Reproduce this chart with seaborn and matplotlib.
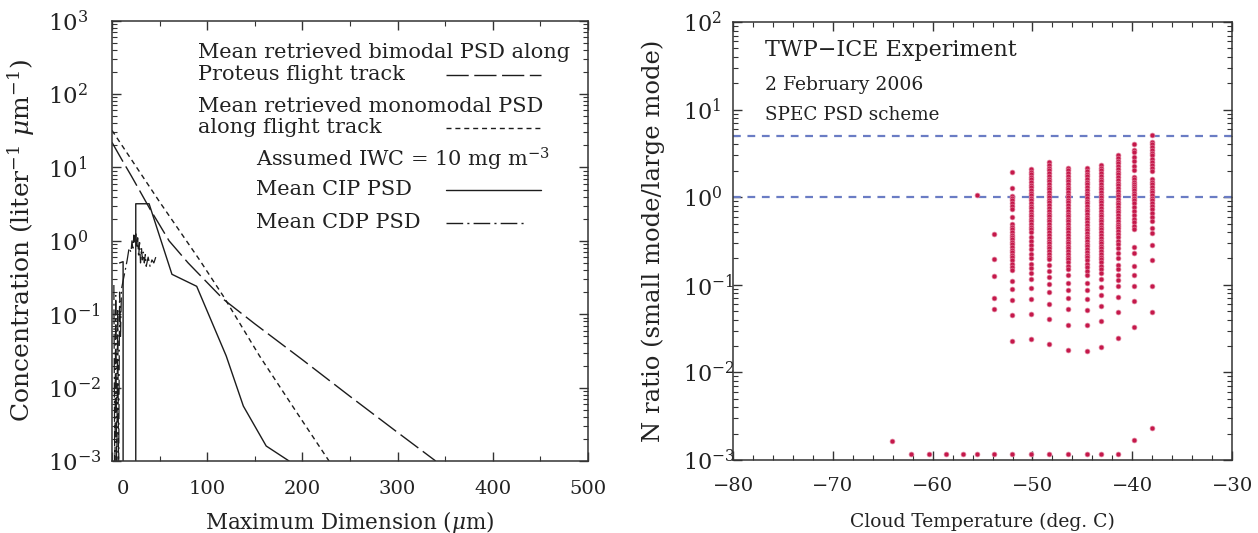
import numpy as np
import pandas as pd
import matplotlib
matplotlib.use("Agg")
import matplotlib.pyplot as plt
import seaborn as sns
from matplotlib.ticker import (LogLocator, MultipleLocator, FixedLocator, FixedFormatter,
                               LogFormatterMathtext, NullFormatter)

# ---------------- left panel data (Maximum dimension in um, concentration) -------------
bimodal_x = [0, 10, 20, 30, 40, 50, 60, 80, 100, 117, 150, 200, 250, 300, 340]
bimodal_y = [22, 13, 7.8, 4.6, 2.7, 1.65, 1.0, 0.5, 0.27, 0.16, 0.074, 0.024, 0.0076, 0.00245, 0.001]

mono_x = [0, 50, 92, 117, 155, 194, 228]
mono_y = [32, 3.4, 0.55, 0.176, 0.027, 0.0046, 0.001]

cip_x = [8, 11.7, 11.7, 25, 25, 39, 63, 89, 120, 138, 162, 186]
cip_y = [0.5, 0.52, 0.0001, 0.0001, 3.2, 3.2, 0.35, 0.24, 0.027, 0.0056, 0.0016, 0.001]

cdp_x = [2, 3, 4, 5, 6, 7, 8, 9, 10, 12, 14, 16, 18, 20, 21, 22, 23, 24, 25, 26, 27, 28,
         29, 30, 31, 32, 33, 34, 35, 36, 38, 40, 42, 44, 46]
cdp_y = [0.25, 0.0005, 0.18, 0.0005, 0.12, 0.0006, 0.2, 0.05, 0.22, 0.3, 0.4, 0.55, 0.8,
         0.7, 1.0, 0.75, 1.2, 0.9, 1.25, 0.8, 1.1, 0.6, 0.95, 0.5, 0.8, 0.55, 0.7, 0.5,
         0.65, 0.45, 0.6, 0.45, 0.55, 0.5, 0.6]
left_xticks = [0, 100, 200, 300, 400, 500]
left_xticklabels = ["", "100", "200", "300", "400", "500"]
zero_label = "0"
zero_label_x = 11.5   # the original draws its "0" label slightly right of the tick
left_yticks = [1e-3, 1e-2, 1e-1, 1e0, 1e1, 1e2, 1e3]

# ---------------- right panel data (cloud temperature, N ratio) -------------------------
col_temps = [-64.1, -62.2, -60.4, -58.7, -57.0, -55.6, -53.9, -52.1, -50.1, -48.3,
             -46.4, -44.5, -43.1, -41.4, -39.8, -38.0]
r_m64 = [0.00166]
r_m62 = [0.00118]
r_m60 = [0.00118]
r_m59 = [0.00118]
r_m57 = [0.00118]
r_m56 = [1.05, 0.00118]
r_m54 = [0.38, 0.197, 0.125, 0.071, 0.053, 0.00118]
r_m52 = [1.96, 1.27, 1.04, 0.98, 0.92, 0.86, 0.79, 0.74, 0.60, 0.49, 0.46, 0.43, 0.40,
         0.375, 0.35, 0.33, 0.31, 0.29, 0.27, 0.25, 0.235, 0.22, 0.205, 0.19, 0.175, 0.16,
         0.148, 0.111, 0.090, 0.067, 0.045, 0.023, 0.00118]
r_m50 = [2.1, 1.96, 1.83, 1.71, 1.6, 1.49, 1.39, 1.3, 1.21, 1.13, 1.05, 0.98, 0.92, 0.86,
         0.8, 0.75, 0.7, 0.65, 0.61, 0.57, 0.53, 0.49, 0.46, 0.43, 0.4, 0.355, 0.32, 0.285,
         0.255, 0.225, 0.2, 0.175, 0.155, 0.135, 0.116, 0.091, 0.069, 0.046, 0.024, 0.00118]
r_m48 = [2.5, 2.33, 2.17, 2.02, 1.88, 1.75, 1.63, 1.52, 1.42, 1.32, 1.23, 1.15, 1.07, 1.0,
         0.93, 0.87, 0.81, 0.75, 0.7, 0.65, 0.61, 0.57, 0.53, 0.49, 0.46, 0.43, 0.4, 0.37,
         0.345, 0.32, 0.3, 0.28, 0.26, 0.24, 0.225, 0.21, 0.195, 0.17, 0.145, 0.124, 0.102,
         0.082, 0.061, 0.041, 0.021, 0.00118]
r_m46 = [2.17, 2.02, 1.88, 1.75, 1.63, 1.52, 1.42, 1.32, 1.23, 1.15, 1.07, 1.0, 0.93, 0.87,
         0.81, 0.75, 0.7, 0.65, 0.61, 0.57, 0.53, 0.49, 0.46, 0.43, 0.4, 0.37, 0.345, 0.32,
         0.3, 0.28, 0.26, 0.24, 0.225, 0.21, 0.195, 0.18, 0.165, 0.15, 0.128, 0.106, 0.087,
         0.07, 0.0525, 0.035, 0.018, 0.00118]
r_m44 = [2.14, 2.0, 1.86, 1.73, 1.61, 1.5, 1.4, 1.3, 1.21, 1.13, 1.05, 0.98, 0.91, 0.85,
         0.79, 0.74, 0.69, 0.64, 0.6, 0.56, 0.52, 0.48, 0.45, 0.42, 0.39, 0.36, 0.34, 0.315,
         0.295, 0.275, 0.255, 0.235, 0.22, 0.205, 0.19, 0.175, 0.16, 0.145, 0.13, 0.104,
         0.087, 0.069, 0.052, 0.035, 0.0177, 0.00118]
r_m43 = [2.33, 2.17, 2.02, 1.88, 1.75, 1.63, 1.52, 1.42, 1.32, 1.23, 1.15, 1.07, 1.0, 0.93,
         0.87, 0.81, 0.75, 0.7, 0.65, 0.61, 0.57, 0.53, 0.49, 0.46, 0.43, 0.4, 0.37, 0.345,
         0.32, 0.3, 0.28, 0.26, 0.24, 0.225, 0.21, 0.195, 0.18, 0.165, 0.15, 0.138, 0.116,
         0.095, 0.077, 0.057, 0.039, 0.0197, 0.00118]
r_m41 = [3.03, 2.82, 2.62, 2.44, 2.27, 2.11, 1.96, 1.82, 1.7, 1.58, 1.47, 1.37, 1.27, 1.18,
         1.1, 1.02, 0.95, 0.89, 0.83, 0.77, 0.72, 0.67, 0.62, 0.58, 0.54, 0.5, 0.47, 0.44,
         0.41, 0.38, 0.35, 0.32, 0.29, 0.26, 0.23, 0.2, 0.17, 0.15, 0.129, 0.113, 0.098,
         0.073, 0.049, 0.025, 0.00118]
r_m40 = [4.0, 3.5, 3.25, 2.9, 2.6, 2.3, 2.05, 1.7, 1.6, 1.5, 1.4, 1.33, 1.27, 1.2, 1.12,
         1.05, 0.98, 0.92, 0.86, 0.78, 0.7, 0.63, 0.57, 0.52, 0.47, 0.43, 0.268, 0.229,
         0.165, 0.129, 0.098, 0.066, 0.033, 0.00168]
r_m38 = [5.13, 4.3, 4.0, 3.75, 3.5, 3.2, 3.0, 2.7, 2.5, 2.35, 2.15, 2.0, 1.6, 1.5, 1.4, 1.3,
         1.22, 1.14, 1.06, 0.98, 0.92, 0.86, 0.8, 0.73, 0.66, 0.6, 0.53, 0.44, 0.386, 0.285,
         0.19, 0.097, 0.049, 0.00234]
col_ratios = [r_m64, r_m62, r_m60, r_m59, r_m57, r_m56, r_m54, r_m52, r_m50, r_m48,
              r_m46, r_m44, r_m43, r_m41, r_m40, r_m38]
ref_levels = [1, 5]
right_xticks = [-80, -70, -60, -50, -40, -30]
right_yticks = [1e-3, 1e-2, 1e-1, 1e0, 1e1, 1e2]

legend_labels = ["Mean retrieved bimodal PSD along", "Proteus flight track",
                 "Mean retrieved monomodal PSD", "along flight track",
                 "Assumed IWC = 10 mg m$^{-3}$", "Mean CIP PSD", "Mean CDP PSD"]
info_texts = ["TWP\u2212ICE Experiment", "2 February 2006", "SPEC PSD scheme"]

# ---------------- style -----------------------------------------------------------------
sns.set_theme(style="ticks")
plt.rcParams.update({
    "font.family": ["DejaVu Serif"],
    "mathtext.fontset": "dejavuserif",
    "axes.edgecolor": "#333333",
    "axes.linewidth": 1.1,
    "xtick.direction": "in", "ytick.direction": "in",
    "xtick.top": True, "ytick.right": True,
    "xtick.color": "#333333", "ytick.color": "#333333",
    "xtick.labelcolor": "#222222", "ytick.labelcolor": "#222222",
    "xtick.major.size": 6.5, "ytick.major.size": 6.5,
    "xtick.minor.size": 3.8, "ytick.minor.size": 3.8,
    "xtick.major.width": 1.0, "ytick.major.width": 1.0,
    "xtick.minor.width": 0.8, "ytick.minor.width": 0.8,
    "text.color": "#222222", "axes.labelcolor": "#222222",
})

fig = plt.figure(figsize=(12.58, 5.33), dpi=100)
axL = fig.add_axes([0.089, 0.1351, 0.3784, 0.8261])
axR = fig.add_axes([0.5827, 0.137, 0.3967, 0.8217])

LC = "#1c1c1c"
LONG = (0, (16, 4))
SHORT = (0, (3.6, 2.8))
DASHDOT = (0, (12, 3, 1.5, 3))

sns.lineplot(x=bimodal_x, y=bimodal_y, ax=axL, sort=False, estimator=None,
             color=LC, lw=1.0, linestyle=LONG)
sns.lineplot(x=mono_x, y=mono_y, ax=axL, sort=False, estimator=None,
             color=LC, lw=1.0, linestyle=SHORT)
sns.lineplot(x=cip_x, y=cip_y, ax=axL, sort=False, estimator=None,
             color=LC, lw=1.0, linestyle="-")
sns.lineplot(x=cdp_x, y=cdp_y, ax=axL, sort=False, estimator=None,
             color=LC, lw=0.9, linestyle=DASHDOT)

axL.set_yscale("log")
axL.set_xlim(0, 500)
axL.set_ylim(1e-3, 1e3)
axL.xaxis.set_major_locator(FixedLocator(left_xticks))
axL.xaxis.set_major_formatter(FixedFormatter(left_xticklabels))
axL.xaxis.set_minor_locator(MultipleLocator(50))
axL.yaxis.set_major_locator(FixedLocator(left_yticks))
axL.yaxis.set_minor_locator(LogLocator(base=10, subs=np.arange(2, 10), numticks=20))
axL.yaxis.set_major_formatter(LogFormatterMathtext())
axL.yaxis.set_minor_formatter(NullFormatter())
axL.tick_params(axis="x", which="both", labelsize=14, pad=14)
axL.tick_params(axis="y", which="both", labelsize=16.5, pad=46)
axL.text(zero_label_x, -0.044, zero_label, transform=axL.get_xaxis_transform(),
         fontsize=14, ha="center", va="top", color="#222222")
axL.set_xlabel("Maximum Dimension ($\\mu$m)", fontsize=15.5)
axL.xaxis.set_label_coords(0.5, -0.108)
axL.set_ylabel("Concentration (liter$^{-1}$ $\\mu$m$^{-1}$)", fontsize=18)
axL.yaxis.set_label_coords(-0.157, 0.5)

# legend (text with sample line keys)
tx = [0.181, 0.181, 0.181, 0.181, 0.3025, 0.3025, 0.3025]
ty = [0.927, 0.877, 0.805, 0.757, 0.684, 0.616, 0.541]
for x, y, s in zip(tx, ty, legend_labels):
    axL.text(x, y, s, transform=axL.transAxes, fontsize=15, va="center", ha="left")
key_y = [0.877, 0.757, 0.616, 0.541]
key_end = [0.901, 0.901, 0.901, 0.872]
key_style = [LONG, SHORT, "-", DASHDOT]
for y, xe, ls in zip(key_y, key_end, key_style):
    axL.plot([0.702, xe], [y, y], transform=axL.transAxes, color=LC, lw=1.0, linestyle=ls)

# right panel
rows_t, rows_r = [], []
for t, rs in zip(col_temps, col_ratios):
    rows_t += [t] * len(rs)
    rows_r += rs
df = pd.DataFrame({"temp": rows_t, "ratio": rows_r})

for lvl in ref_levels:
    axR.axhline(lvl, color="#6a7cc4", lw=1.6, linestyle=(0, (3.5, 3.0)), zorder=1)
sns.scatterplot(data=df, x="temp", y="ratio", ax=axR, color="#c4184a", s=12,
                edgecolor="#e07a98", linewidth=0.5, zorder=3)
axR.set_yscale("log")
axR.set_xlim(-80, -30)
axR.set_ylim(1e-3, 1e2)
axR.xaxis.set_major_locator(FixedLocator(right_xticks))
axR.xaxis.set_minor_locator(MultipleLocator(2))
axR.yaxis.set_major_locator(FixedLocator(right_yticks))
axR.yaxis.set_minor_locator(LogLocator(base=10, subs=np.arange(2, 10), numticks=20))
axR.yaxis.set_major_formatter(LogFormatterMathtext())
axR.yaxis.set_minor_formatter(NullFormatter())
axR.tick_params(axis="x", which="both", labelsize=14, pad=12)
axR.tick_params(axis="y", which="both", labelsize=16, pad=36)
axR.set_xlabel("Cloud Temperature (deg. C)", fontsize=13.5)
axR.xaxis.set_label_coords(0.5, -0.12)
axR.set_ylabel("N ratio (small mode/large mode)", fontsize=17.5)
axR.yaxis.set_label_coords(-0.136, 0.5)

ity = [0.936, 0.856, 0.788]
isz = [16, 13.5, 13.2]
for y, s, fs in zip(ity, info_texts, isz):
    axR.text(0.064, y, s, transform=axR.transAxes, fontsize=fs, va="center", ha="left")

# left-align y tick labels as in the original
fig.canvas.draw()
for ax in (axL, axR):
    for tk in ax.yaxis.get_major_ticks():
        tk.label1.set_horizontalalignment("left")

fig.savefig("out.png", dpi=100)
